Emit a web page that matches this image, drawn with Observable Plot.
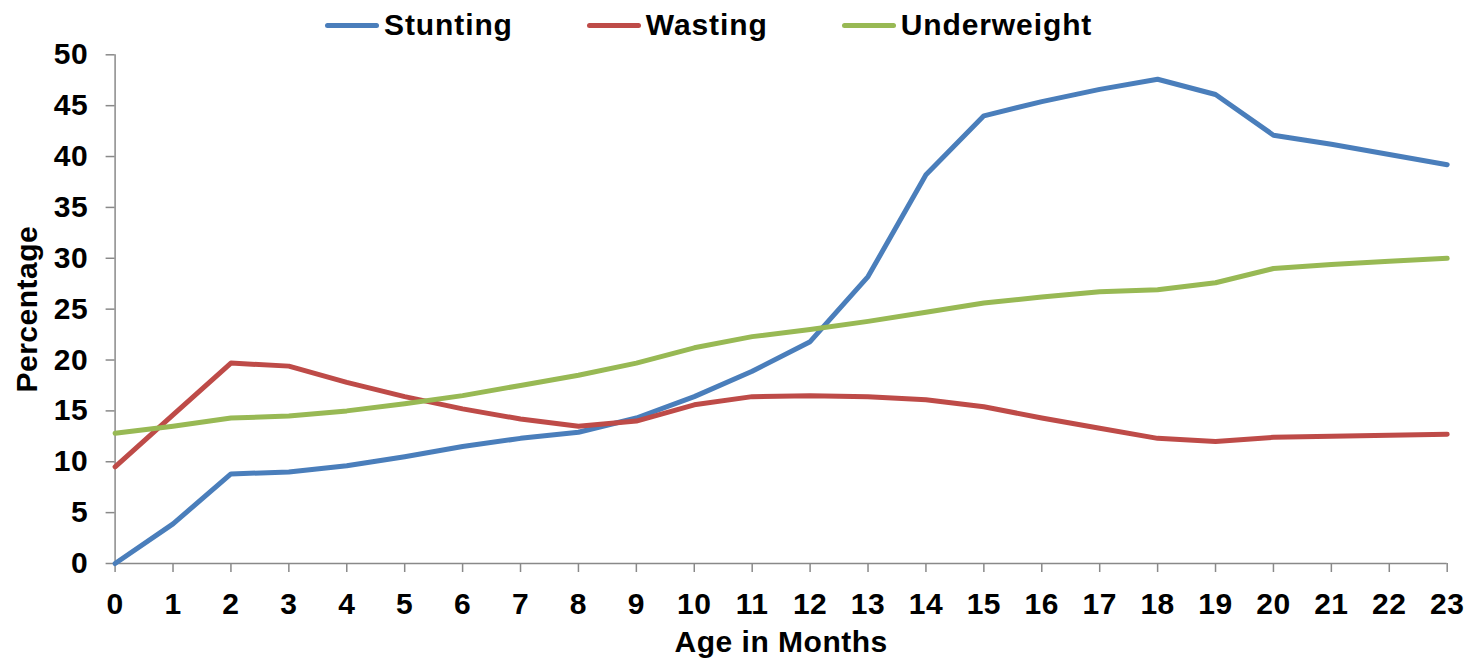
<!DOCTYPE html>
<html>
<head>
<meta charset="utf-8">
<script src="https://cdn.jsdelivr.net/npm/d3@7"></script>
<script src="https://cdn.jsdelivr.net/npm/@observablehq/plot@0.6"></script>
<style>
  html, body { margin: 0; padding: 0; background: #fff; }
  body { position: relative; width: 1470px; height: 664px; overflow: hidden;
         font-family: "Liberation Sans", Arial, Helvetica, sans-serif; }
  #legend { position: absolute; top: 10px; left: 325px; z-index: 2; display: flex; align-items: center;
            font-size: 30px; font-weight: bold; line-height: 30px; letter-spacing: 0.9px; color: #000; }
  #legend .item { display: inline-flex; align-items: center; margin-right: 74px; }
  #legend .swatch { display: inline-block; width: 54px; height: 5px; border-radius: 3px; margin-right: 5px; }
  #chart { position: absolute; top: 38px; left: 0; }
</style>
</head>
<body>
<div id="legend"></div>
<div id="chart"></div>
<script>
// Age in months (x axis categories)
const months = [0, 1, 2, 3, 4, 5, 6, 7, 8, 9, 10, 11, 12, 13, 14, 15, 16, 17, 18, 19, 20, 21, 22, 23];

// Prevalence (%) by age for each indicator
const stunting = [0, 3.9, 8.8, 9.0, 9.6, 10.5, 11.5, 12.3, 12.9, 14.3, 16.4, 18.9, 21.8, 28.2, 38.2, 44.0, 45.4, 46.6, 47.6, 46.1, 42.1, 41.2, 40.2, 39.2];
const wasting = [9.5, 14.6, 19.7, 19.4, 17.8, 16.4, 15.2, 14.2, 13.5, 14.0, 15.6, 16.4, 16.5, 16.4, 16.1, 15.4, 14.3, 13.3, 12.3, 12.0, 12.4, 12.5, 12.6, 12.7];
const underweight = [12.8, 13.5, 14.3, 14.5, 15.0, 15.7, 16.5, 17.5, 18.5, 19.7, 21.2, 22.3, 23.0, 23.8, 24.7, 25.6, 26.2, 26.7, 26.9, 27.6, 29.0, 29.4, 29.7, 30.0];

const seriesNames = ["Stunting", "Wasting", "Underweight"];
const seriesColors = ["#4a7ebb", "#be4b48", "#98b954"];
const yTicks = [0, 5, 10, 15, 20, 25, 30, 35, 40, 45, 50];

// Long-format table for the line mark
const seriesValues = [stunting, wasting, underweight];
const rows = [];
seriesNames.forEach((name, i) => {
  seriesValues[i].forEach((v, j) => rows.push({month: months[j], value: v, series: name}));
});

// Legend above the chart
const legend = document.getElementById("legend");
seriesNames.forEach((name, i) => {
  const item = document.createElement("span");
  item.className = "item";
  const sw = document.createElement("span");
  sw.className = "swatch";
  sw.style.background = seriesColors[i];
  const label = document.createElement("span");
  label.textContent = name;
  item.appendChild(sw);
  item.appendChild(label);
  legend.appendChild(item);
});

const axisGray = "#898989";

const chart = Plot.plot({
  width: 1470,
  height: 626,
  marginLeft: 114.6,
  marginRight: 23.3,
  marginTop: 16.3,
  marginBottom: 101,
  style: {
    fontFamily: '"Liberation Sans", Arial, Helvetica, sans-serif',
    fontWeight: "bold",
    fontSize: "30px",
    letterSpacing: "0.5px",
    color: "#000",
    background: "transparent",
    overflow: "visible"
  },
  x: {domain: [0, 23]},
  y: {domain: [0, 50]},
  color: {domain: seriesNames, range: seriesColors},
  marks: [
    Plot.axisY({
      ticks: yTicks, tickSize: 9, tickPadding: 18, stroke: axisGray, strokeWidth: 1.5,
      tickFormat: d => String(d), fontSize: 30,
      label: "Percentage", labelAnchor: "center", labelArrow: "none", labelOffset: 99
    }),
    Plot.axisX({
      ticks: months, tickSize: 9, tickPadding: 20, stroke: axisGray, strokeWidth: 1.5,
      tickFormat: d => String(d), fontSize: 30,
      label: "Age in Months", labelAnchor: "center", labelArrow: "none", labelOffset: 88
    }),
    Plot.ruleX([0], {stroke: axisGray, strokeWidth: 1.5}),
    Plot.ruleY([0], {stroke: axisGray, strokeWidth: 1.5}),
    Plot.line(rows, {
      x: "month", y: "value", z: "series", stroke: "series",
      strokeWidth: 5, strokeLinejoin: "round", strokeLinecap: "round"
    })
  ]
});

document.getElementById("chart").appendChild(chart);
</script>
</body>
</html>
